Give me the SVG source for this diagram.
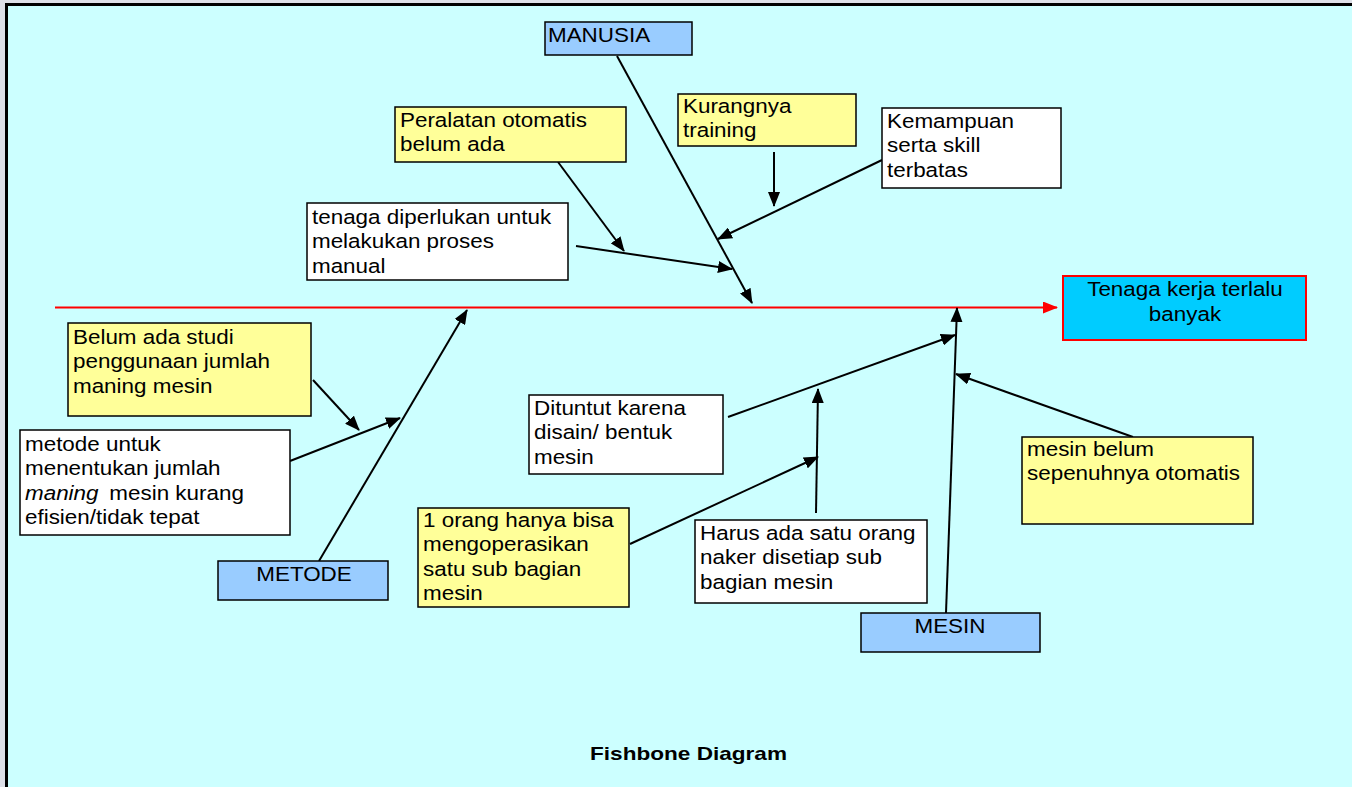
<svg xmlns="http://www.w3.org/2000/svg" width="1352" height="787" viewBox="0 0 1352 787">
  <defs>
    <style>
      .box { stroke: #000; stroke-width: 1.5; }
      .cause { fill: #FFFF99; }
      .note { fill: #FFFFFF; }
      .cat { fill: #99CCFF; }
      .effect { fill: #00CCFF; stroke: #FF0000; stroke-width: 2; }
      text { font-family: "Liberation Sans", Arial, sans-serif; font-size: 19.5px; fill: #000; }
      .lbl { transform-box: fill-box; transform-origin: 0 0; transform: scaleX(1.15); }
      .ctr { text-anchor: middle; transform-box: fill-box; transform-origin: 50% 50%; transform: scaleX(1.15); }
      .bone { stroke: #000; stroke-width: 2; fill: none; marker-end: url(#head); }
      .spine { stroke: #FF0000; stroke-width: 2; fill: none; marker-end: url(#headRed); }
      .title { font-weight: bold; font-size: 19px; }
    </style>
    <marker id="head" markerUnits="userSpaceOnUse" markerWidth="15" markerHeight="12" refX="14" refY="6" orient="auto">
      <path d="M0,0 L15,6 L0,12 Z" fill="#000"/>
    </marker>
    <marker id="headRed" markerUnits="userSpaceOnUse" markerWidth="15" markerHeight="12" refX="14" refY="6" orient="auto">
      <path d="M0,0 L15,6 L0,12 Z" fill="#FF0000"/>
    </marker>
  </defs>

  <!-- page frame -->
  <rect x="0" y="0" width="1352" height="787" fill="#DEE0E8"/>
  <rect x="8" y="6" width="1344" height="781" fill="#CCFFFF"/>
  <rect x="5" y="3" width="3" height="784" fill="#000"/>
  <rect x="5" y="3" width="1347" height="3" fill="#000"/>

  <!-- connectors -->
  <g id="connectors">
    <line class="spine" x1="55" y1="307.5" x2="1057" y2="307.5"/>
    <!-- MANUSIA branch -->
    <line class="bone" x1="617" y1="56" x2="752" y2="303"/>
    <line class="bone" x1="558" y1="162" x2="624" y2="251"/>
    <line class="bone" x1="576" y1="246" x2="732" y2="269"/>
    <line class="bone" x1="774" y1="152" x2="774" y2="206"/>
    <line class="bone" x1="882" y1="160" x2="718" y2="239"/>
    <!-- METODE branch -->
    <line class="bone" x1="319" y1="561" x2="467" y2="310"/>
    <line class="bone" x1="313" y1="380" x2="359" y2="430"/>
    <line class="bone" x1="290" y1="461" x2="400" y2="418"/>
    <!-- MESIN branch -->
    <line class="bone" x1="946" y1="613" x2="957" y2="308"/>
    <line class="bone" x1="728" y1="417" x2="955" y2="335"/>
    <line class="bone" x1="1133" y1="437" x2="956" y2="374"/>
    <line class="bone" x1="816" y1="513" x2="818" y2="389"/>
    <line class="bone" x1="630" y1="544" x2="818" y2="457"/>
  </g>

  <g id="manusia">
    <rect class="box cat" x="545" y="22" width="147" height="33"/>
    <text class="lbl" x="548" y="42">MANUSIA</text>
  </g>

  <g id="peralatan">
    <rect class="box cause" x="395" y="107" width="231" height="55"/>
    <text class="lbl" x="400" y="127"><tspan x="400">Peralatan otomatis</tspan><tspan x="400" dy="24.5">belum ada</tspan></text>
  </g>

  <g id="training">
    <rect class="box cause" x="678" y="94" width="178" height="52"/>
    <text class="lbl" x="683" y="113"><tspan x="683">Kurangnya</tspan><tspan x="683" dy="24.5">training</tspan></text>
  </g>

  <g id="skill">
    <rect class="box note" x="882" y="108" width="179" height="80"/>
    <text class="lbl" x="887" y="128"><tspan x="887">Kemampuan</tspan><tspan x="887" dy="24.5">serta skill</tspan><tspan x="887" dy="24.5">terbatas</tspan></text>
  </g>

  <g id="manual">
    <rect class="box note" x="307" y="203" width="261" height="77"/>
    <text class="lbl" x="312" y="224"><tspan x="312">tenaga diperlukan untuk</tspan><tspan x="312" dy="24.5">melakukan proses</tspan><tspan x="312" dy="24.5">manual</tspan></text>
  </g>

  <g id="effect">
    <rect class="effect" x="1063" y="276" width="243" height="64"/>
    <text class="ctr" x="1185" y="296"><tspan x="1185">Tenaga kerja terlalu</tspan><tspan x="1185" dy="24.5">banyak</tspan></text>
  </g>

  <g id="studi">
    <rect class="box cause" x="68" y="323" width="243" height="93"/>
    <text class="lbl" x="73" y="344"><tspan x="73">Belum ada studi</tspan><tspan x="73" dy="24.5">penggunaan jumlah</tspan><tspan x="73" dy="24.5">maning mesin</tspan></text>
  </g>

  <g id="metode-cara">
    <rect class="box note" x="20" y="430" width="270" height="105"/>
    <text class="lbl" x="25" y="451"><tspan x="25">metode untuk</tspan><tspan x="25" dy="24.5">menentukan jumlah</tspan><tspan x="25" dy="24.5" font-style="italic">maning</tspan><tspan dx="4"> mesin kurang</tspan><tspan x="25" dy="24.5">efisien/tidak tepat</tspan></text>
  </g>

  <g id="metode">
    <rect class="box cat" x="218" y="561" width="170" height="39"/>
    <text class="ctr" x="304" y="581">METODE</text>
  </g>

  <g id="desain">
    <rect class="box note" x="529" y="395" width="194" height="79"/>
    <text class="lbl" x="534" y="415"><tspan x="534">Dituntut karena</tspan><tspan x="534" dy="24.5">disain/ bentuk</tspan><tspan x="534" dy="24.5">mesin</tspan></text>
  </g>

  <g id="operator">
    <rect class="box cause" x="418" y="508" width="211" height="99"/>
    <text class="lbl" x="423" y="527"><tspan x="423">1 orang hanya bisa</tspan><tspan x="423" dy="24.5">mengoperasikan</tspan><tspan x="423" dy="24.5">satu sub bagian</tspan><tspan x="423" dy="24.5">mesin</tspan></text>
  </g>

  <g id="naker">
    <rect class="box note" x="695" y="520" width="232" height="83"/>
    <text class="lbl" x="700" y="540"><tspan x="700">Harus ada satu orang</tspan><tspan x="700" dy="24.5">naker disetiap sub</tspan><tspan x="700" dy="24.5">bagian mesin</tspan></text>
  </g>

  <g id="mesin">
    <rect class="box cat" x="861" y="613" width="179" height="39"/>
    <text class="ctr" x="950" y="633">MESIN</text>
  </g>

  <g id="otomatis">
    <rect class="box cause" x="1022" y="437" width="231" height="87"/>
    <text class="lbl" x="1027" y="456"><tspan x="1027">mesin belum</tspan><tspan x="1027" dy="24.5">sepenuhnya otomatis</tspan></text>
  </g>

  <text class="title" x="590" y="760" textLength="197" lengthAdjust="spacingAndGlyphs">Fishbone Diagram</text>
</svg>
